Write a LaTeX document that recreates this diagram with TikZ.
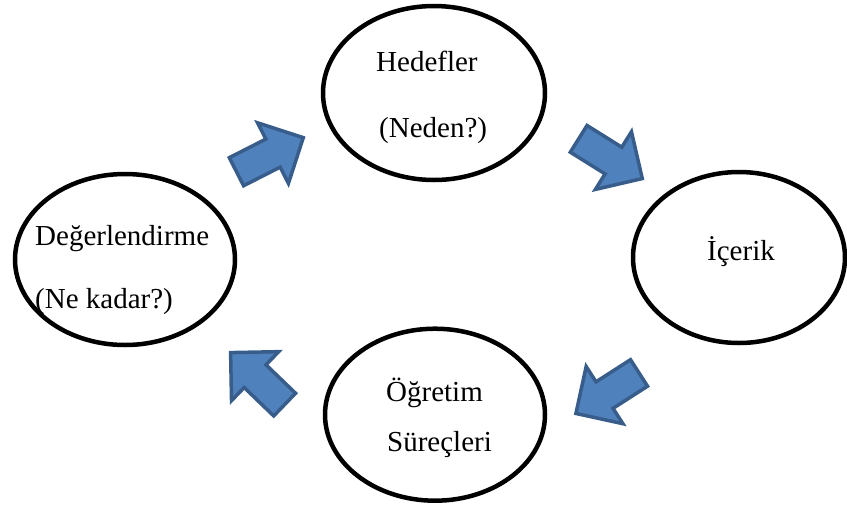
\documentclass[tikz,border=0pt]{standalone}
\usepackage{fontspec}
\setmainfont{Liberation Serif}
\usetikzlibrary{%
    shapes.geometric,
    shapes.arrows
}
\definecolor{arrowfill}{HTML}{4F81BD}
\definecolor{arrowline}{HTML}{385D8A}
\tikzset{
    stage/.style = {draw, ellipse, line width=4.5pt, minimum width=222pt,
        minimum height=174pt, inner sep=0pt},
    txt/.style = {inner sep=0pt, anchor=base west,
        font=\fontsize{29}{34}\selectfont},
    blockarrow/.style = {single arrow, draw=arrowline, fill=arrowfill,
        line width=3.5pt, line join=miter, minimum height=75pt,
        single arrow head extend=18.25pt,
        inner xsep=0pt, inner ysep=14pt, anchor=tail}
}

\begin{document}
\begin{tikzpicture}[x=1pt,y=-1pt]
    \useasboundingbox (0,0) rectangle (847,507);

    % ellipses
    \node[stage] (hedef) at (434,93) {};
    \node[stage, minimum width=212pt, minimum height=171pt] (icerik) at (739,257.5) {};
    \node[stage, minimum width=220pt, minimum height=172pt] (ogretim) at (435,414.7) {};
    \node[stage, minimum width=220pt, minimum height=171pt] (deger) at (125,259.5) {};

    % texts
    \node[txt] (hedefA) at ([shift={(-58,-22)}]hedef.center) {Hedefler};
    \node[txt] (hedefB) at ([shift={(-55,44)}]hedef.center) {(Neden?)};
    \node[txt] (icerikA) at ([shift={(-32,2.5)}]icerik.center) {İçerik};
    \node[txt] (ogretimA) at ([shift={(-49,-13)}]ogretim.center) {Öğretim};
    \node[txt] (ogretimB) at ([shift={(-48,37)}]ogretim.center) {Süreçleri};
    \node[txt] (degerA) at ([shift={(-90,-14.5)}]deger.center) {Değerlendirme};
    \node[txt] (degerB) at ([shift={(-90,48.5)}]deger.center) {(Ne kadar?)};

    % block arrows
    \node[blockarrow, rotate=27] (ok1) at (234.9,172.5) {};
    \node[blockarrow, rotate=-32] (ok2) at (577.2,137.9) {};
    \node[blockarrow, rotate=212.7] (ok3) at (640.5,372) {};
    \node[blockarrow, rotate=136.1] (ok4) at (285.9,405.8) {};
\end{tikzpicture}
\end{document}
